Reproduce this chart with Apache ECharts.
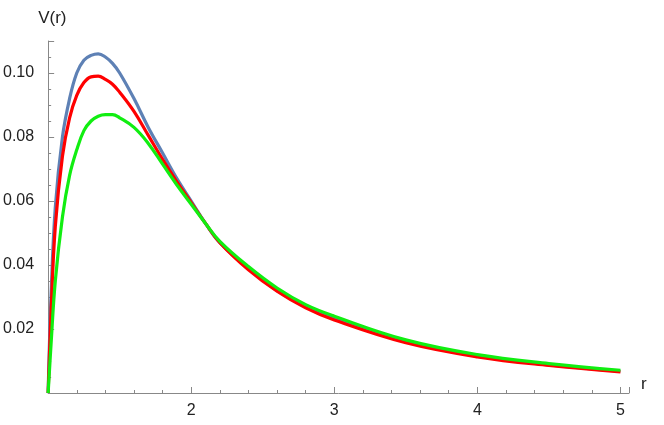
<!DOCTYPE html>
<html><head><meta charset="utf-8">
<script src="https://cdn.jsdelivr.net/npm/echarts@6/dist/echarts.min.js"></script>
<style>html,body{margin:0;background:#fff}#c{width:664px;height:425px}</style>
</head><body><div id="c"></div>
<script>
const rValues = [1,1.02,1.05,1.1,1.15,1.2,1.25,1.3,1.35,1.4,1.45,1.5,1.6,1.7,1.8,1.9,2.0,2.1,2.2,2.4,2.6,2.8,3.0,3.5,4.0,4.5,5.0];
const blueV  = [0,0.030,0.058,0.080,0.092,0.100,0.104,0.1055,0.106,0.105,0.103,0.100,0.092,0.083,0.075,0.067,0.060,0.053,0.047,0.039,0.032,0.027,0.0232,0.0160,0.0115,0.0088,0.0068];
const redV   = [0,0.025,0.052,0.074,0.086,0.093,0.097,0.0988,0.099,0.098,0.0965,0.094,0.088,0.0805,0.073,0.066,0.0595,0.053,0.047,0.0385,0.0318,0.0266,0.0228,0.0157,0.0113,0.0086,0.0066];
const greenV = [0,0.015,0.035,0.055,0.068,0.076,0.082,0.085,0.0865,0.087,0.087,0.086,0.083,0.078,0.0715,0.065,0.059,0.053,0.0474,0.0395,0.0328,0.0276,0.0240,0.0166,0.0120,0.0092,0.0071];
const yTicks = [0.02,0.04,0.06,0.08,0.10];
const pairs = v => rValues.map((r,i)=>[r,v[i]]);
const ch = echarts.init(document.getElementById('c'));
const axisCol = '#888';
ch.setOption({
  animation:false,
  grid:{left:46,right:35,top:41,bottom:32},
  xAxis:{type:'value',min:1,max:5.06,interval:1,name:'r',nameGap:12,
    nameTextStyle:{color:'#222',fontSize:17,fontFamily:'Liberation Sans',verticalAlign:'bottom'},
    axisLine:{lineStyle:{color:axisCol}},axisTick:{inside:true,length:6,lineStyle:{color:axisCol}},
    minorTick:{show:true,splitNumber:5,length:3,lineStyle:{color:axisCol}},
    splitLine:{show:false},
    axisLabel:{color:'#222',fontSize:16,fontFamily:'Liberation Sans',margin:10,
      formatter:v=>v===1||v>5.01?'':String(v)}},
  yAxis:{type:'value',min:0,max:0.11,interval:0.02,name:'V(r)',nameGap:14,
    nameTextStyle:{color:'#222',fontSize:17,fontFamily:'Liberation Sans',align:'left',padding:[0,0,0,-10]},
    axisLine:{show:true,lineStyle:{color:axisCol}},axisTick:{show:true,inside:true,length:6,lineStyle:{color:axisCol}},
    minorTick:{show:true,splitNumber:4,length:3,lineStyle:{color:axisCol}},
    splitLine:{show:false},
    axisLabel:{color:'#222',fontSize:16,fontFamily:'Liberation Sans',margin:14,
      formatter:v=>yTicks.some(t=>Math.abs(t-v)<1e-9)?v.toFixed(2):''}},
  series:[
    {type:'line',data:pairs(blueV),smooth:0.4,showSymbol:false,lineStyle:{color:'#5e81b5',width:3.2}},
    {type:'line',data:pairs(redV),smooth:0.4,showSymbol:false,lineStyle:{color:'#ff0000',width:3.2}},
    {type:'line',data:pairs(greenV),smooth:0.4,showSymbol:false,lineStyle:{color:'#11ee11',width:3.2}}
  ]
});
</script></body></html>
